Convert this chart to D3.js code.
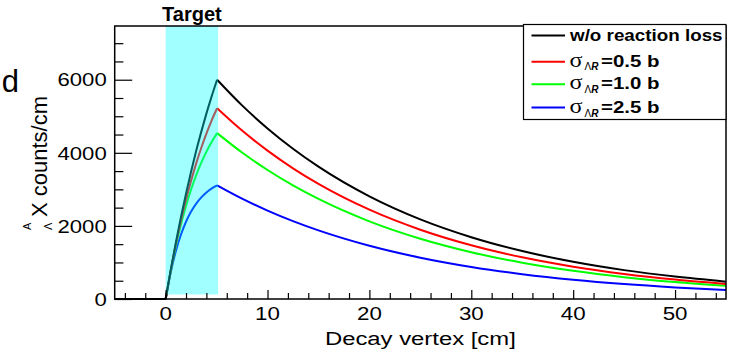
<!DOCTYPE html>
<html><head><meta charset="utf-8">
<script src="https://cdn.jsdelivr.net/npm/d3@7"></script>
<style>
html,body{margin:0;padding:0;background:#fff;}
svg{display:block;font-family:"Liberation Sans",Arial,Helvetica,sans-serif;}
</style></head>
<body>
<svg id="c" width="738" height="352"></svg>
<script>
// ---------- data ----------
const xFlat = [-5, 0];
const xIn = [0, 0.5, 1, 1.5, 2, 2.5, 3, 3.5, 4, 4.5, 5.05];
const xOut = [5.05, 7.5, 10, 12.5, 15, 20, 25, 30, 35, 40, 45, 50, 55];

const blackIn = [0, 798, 1541, 2236, 2884, 3489, 4054, 4580, 5072, 5531, 6000];
const redIn   = [0, 785, 1494, 2135, 2715, 3239, 3712, 4140, 4527, 4877, 5220];
const greenIn = [0, 771, 1446, 2034, 2548, 2996, 3389, 3731, 4030, 4290, 4538];
const blueIn  = [0, 733, 1308, 1759, 2114, 2392, 2610, 2781, 2916, 3022, 3110];

const blackOut = [6000, 5298, 4667, 4111, 3621, 2809, 2179, 1691, 1312, 1018, 790, 613, 475];
const redOut   = [5220, 4609, 4060, 3576, 3150, 2444, 1896, 1471, 1141, 885, 687, 533, 413];
const greenOut = [4538, 4007, 3530, 3109, 2739, 2125, 1648, 1279, 992, 770, 597, 463, 359];
const blueOut  = [3110, 2746, 2419, 2131, 1877, 1456, 1130, 876, 680, 527, 409, 318, 246];

const seriesNames = ["w/o reaction loss", "=0.5 b", "=1.0 b", "=2.5 b"];
const seriesColors = ["#000000", "#ff0000", "#00ff00", "#0000ff"];

const xMajorTicks = [0, 10, 20, 30, 40, 50];
const xMinorTicks = [-4, -2, 2, 4, 6, 8, 12, 14, 16, 18, 22, 24, 26, 28, 32, 34, 36, 38, 42, 44, 46, 48, 52, 54];
const yMajorTicks = [0, 2000, 4000, 6000];
const yMinorTicks = [500, 1000, 1500, 2500, 3000, 3500, 4500, 5000, 5500, 6500, 7000];
const xDomain = [-5, 55];
const yDomain = [0, 7470];
const targetX = [0, 5.15];
const targetY = [125, 7470];

// ---------- layout ----------
const L = 114.7, R = 726, T = 26, B = 299;
const svg = d3.select("#c");
const x = d3.scaleLinear().domain(xDomain).range([L, R]);
const y = d3.scaleLinear().domain(yDomain).range([B, T]);

function stext(g, px, py, txt, size, sx, anchor, weight, family) {
  return g.append("text")
    .attr("transform", `translate(${px},${py}) scale(${sx},1)`)
    .attr("text-anchor", anchor || "start")
    .attr("font-size", size)
    .attr("font-weight", weight || "normal")
    .attr("font-family", family || null)
    .attr("fill", "#000")
    .text(txt);
}

// ---------- curves ----------
const line = d3.line().x(d => x(d[0])).y(d => y(d[1])).curve(d3.curveMonotoneX);
const ins = [blackIn, redIn, greenIn, blueIn];
const outs = [blackOut, redOut, greenOut, blueOut];
const gC = svg.append("g");
for (let i = 3; i >= 0; i--) {
  const flat = xFlat.map(v => [v, 0]);
  const a = xIn.map((v, k) => [v, ins[i][k]]);
  const b = xOut.map((v, k) => [v, outs[i][k]]);
  [flat, a, b].forEach(seg => {
    gC.append("path").attr("d", line(seg)).attr("fill", "none")
      .attr("stroke", seriesColors[i]).attr("stroke-width", 2)
      .attr("stroke-linejoin", "round");
  });
}

// ---------- target band ----------
svg.append("rect")
  .attr("x", x(targetX[0])).attr("width", x(targetX[1]) - x(targetX[0]))
  .attr("y", y(targetY[1])).attr("height", y(targetY[0]) - y(targetY[1]))
  .attr("fill", "#00ffff").attr("fill-opacity", 0.37);
stext(svg, (x(targetX[0]) + x(targetX[1])) / 2, 20.5, "Target", 19.5, 1.03, "middle", "bold");

// ---------- axes ----------
const gx = svg.append("g").attr("transform", `translate(0,${B})`);
gx.call(d3.axisBottom(x).tickValues(xMajorTicks).tickSize(-9).tickSizeOuter(0).tickFormat(""));
const gxm = svg.append("g").attr("transform", `translate(0,${B})`);
gxm.call(d3.axisBottom(x).tickValues(xMinorTicks).tickSize(-6).tickSizeOuter(0).tickFormat(""));
const gy = svg.append("g").attr("transform", `translate(${L},0)`);
gy.call(d3.axisLeft(y).tickValues(yMajorTicks).tickSize(-17.5).tickSizeOuter(0).tickFormat(""));
const gym = svg.append("g").attr("transform", `translate(${L},0)`);
gym.call(d3.axisLeft(y).tickValues(yMinorTicks).tickSize(-8.7).tickSizeOuter(0).tickFormat(""));
svg.selectAll(".domain").remove();
svg.selectAll(".tick line").attr("stroke", "#000").attr("stroke-width", 1.2);

// frame
svg.append("rect").attr("x", L).attr("y", T).attr("width", R - L).attr("height", B - T)
  .attr("fill", "none").attr("stroke", "#000").attr("stroke-width", 1.5);

// tick labels
xMajorTicks.forEach(v => stext(svg, x(v), 320, String(v), 18.6, 1.2, "middle"));
yMajorTicks.forEach(v => stext(svg, 106.7, y(v) + 6.7, String(v), 18.6, 1.19, "end"));

// axis titles
stext(svg, (L + R) / 2, 345, "Decay vertex [cm]", 18.8, 1.27, "middle");
const yt = svg.append("g").attr("transform", "translate(47,160) rotate(-90)");
yt.append("text").attr("x", -70).attr("y", -16.5).attr("font-size", 11).text("A");
yt.append("text").attr("x", -70).attr("y", 5).attr("font-size", 11).text("Λ");
yt.append("text").attr("x", -57).attr("y", 0).attr("font-size", 22).text("X counts/cm");

// stray panel letter at left edge
stext(svg, 19, 92, "d", 31, 1, "end");

// ---------- legend ----------
const lg = svg.append("g");
lg.append("rect").attr("x", 523.5).attr("y", 24.5).attr("width", 726 - 523.5).attr("height", 119.5 - 24.5)
  .attr("fill", "#fff").attr("stroke", "#000").attr("stroke-width", 1.2);
const rowLineY = [35.5, 61.7, 84.3, 107.5];
const rowBase = [40.8, 66.7, 89.3, 113.0];
seriesNames.forEach((name, i) => {
  lg.append("line").attr("x1", 531.5).attr("x2", 565).attr("y1", rowLineY[i]).attr("y2", rowLineY[i])
    .attr("stroke", seriesColors[i]).attr("stroke-width", 2);
  if (i === 0) {
    stext(lg, 570, rowBase[i], name, 16.5, 1.14, "start", "bold");
  } else {
    stext(lg, 569.5, rowBase[i], "σ", 21, 1.15, "start", "normal", "'Liberation Serif','DejaVu Serif',serif");
    const sub = lg.append("text").attr("transform", `translate(584.5,${rowBase[i] + 3.5})`)
      .attr("font-size", 10).attr("font-weight", "bold");
    sub.append("tspan").attr("font-weight", "normal").text("Λ");
    sub.append("tspan").attr("font-style", "italic").text("R");
    stext(lg, 601, rowBase[i], name, 16.5, 1.24, "start", "bold");
  }
});
</script>
</body></html>
